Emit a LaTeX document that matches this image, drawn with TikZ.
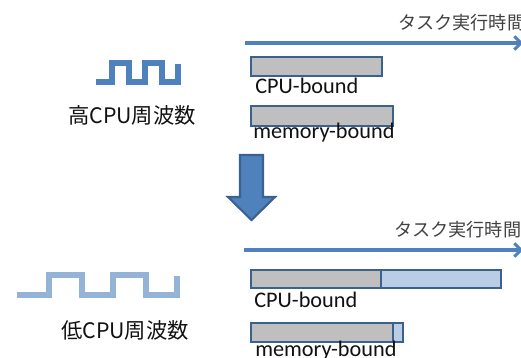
\documentclass[tikz,border=0pt]{standalone}
\usepackage{fontspec}
\usetikzlibrary{arrows.meta}
\setmainfont{Carlito}
\newfontfamily\jpfont{Noto Sans CJK JP}
\definecolor{wavea}{HTML}{4F81BD}
\definecolor{waveb}{HTML}{95B3D7}
\definecolor{edgeb}{HTML}{3B618F}
\definecolor{fillg}{HTML}{BFBFBF}
\definecolor{fillb}{HTML}{B9CDE5}
\definecolor{txt}{HTML}{111111}
\begin{document}
\begin{tikzpicture}[x=0.75pt,y=-0.75pt,
  wave/.style={line width=3.8pt,line join=miter},
  axisline/.style={draw=wavea,line width=2.6pt,-{Straight Barb[length=5pt,width=10pt,line width=2.2pt]}},
  bar/.style={draw=edgeb,line width=2.1pt,fill=fillg},
  barlong/.style={draw=edgeb,line width=2.1pt,fill=fillb},
  tasklabel/.style={anchor=base west,inner sep=0pt,font=\fontsize{16.7pt}{16.7pt}\selectfont,text=txt},
  freqlabel/.style={anchor=base,inner sep=0pt,font=\fontsize{16pt}{16pt}\selectfont\jpfont,text=txt},
  timelabel/.style={anchor=base west,inner sep=0pt,font=\fontsize{13.6pt}{13.6pt}\selectfont\jpfont,text=black!75}]
\useasboundingbox (0,0) rectangle (521,357);
\clip (0,0) rectangle (521,357);
% high
\draw[wave,wavea] (96,82) -| (112,63) -| (129,82) -| (145,63) -| (162,82) -| (178,64);
\node[freqlabel] (hi) at (132,123) {高CPU周波数};
\coordinate (a1s) at (245,43); \coordinate (a1e) at (523,43);
\draw[axisline] (a1s) -- (a1e);
\node[timelabel] (t1) at (398,29) {タスク実行時間};
\draw[bar] (251,57) rectangle (382,76);
\node[tasklabel] (c1) at (255,93) {CPU-bound};
\draw[bar] (251,106) rectangle (393,126);
\node[tasklabel] (m1) at (253,138) {memory-bound};
% arrow
\draw[fill=wavea,draw=edgeb,line width=1.6pt] (240,155) -- (263,155) -- (263,197) -- (275,197) -- (251.5,220) -- (228,197) -- (240,197) -- cycle;
% low
\draw[wave,waveb] (17,295) -| (49,275) -| (82,295) -| (113,275) -| (146,295) -| (177,276);
\node[freqlabel] (lo) at (125,338) {低CPU周波数};
\coordinate (a2s) at (244,250); \coordinate (a2e) at (523,250);
\draw[axisline] (a2s) -- (a2e);
\node[timelabel] (t2) at (394,236) {タスク実行時間};
\draw[barlong] (251,270) rectangle (501,288);
\draw[bar] (251,270) rectangle (381,288);
\node[tasklabel] (c2) at (254,307) {CPU-bound};
\draw[barlong] (251,323) rectangle (403,342);
\draw[bar] (251,323) rectangle (393,342);
\node[tasklabel] (m2) at (255,356) {memory-bound};
\end{tikzpicture}
\end{document}
